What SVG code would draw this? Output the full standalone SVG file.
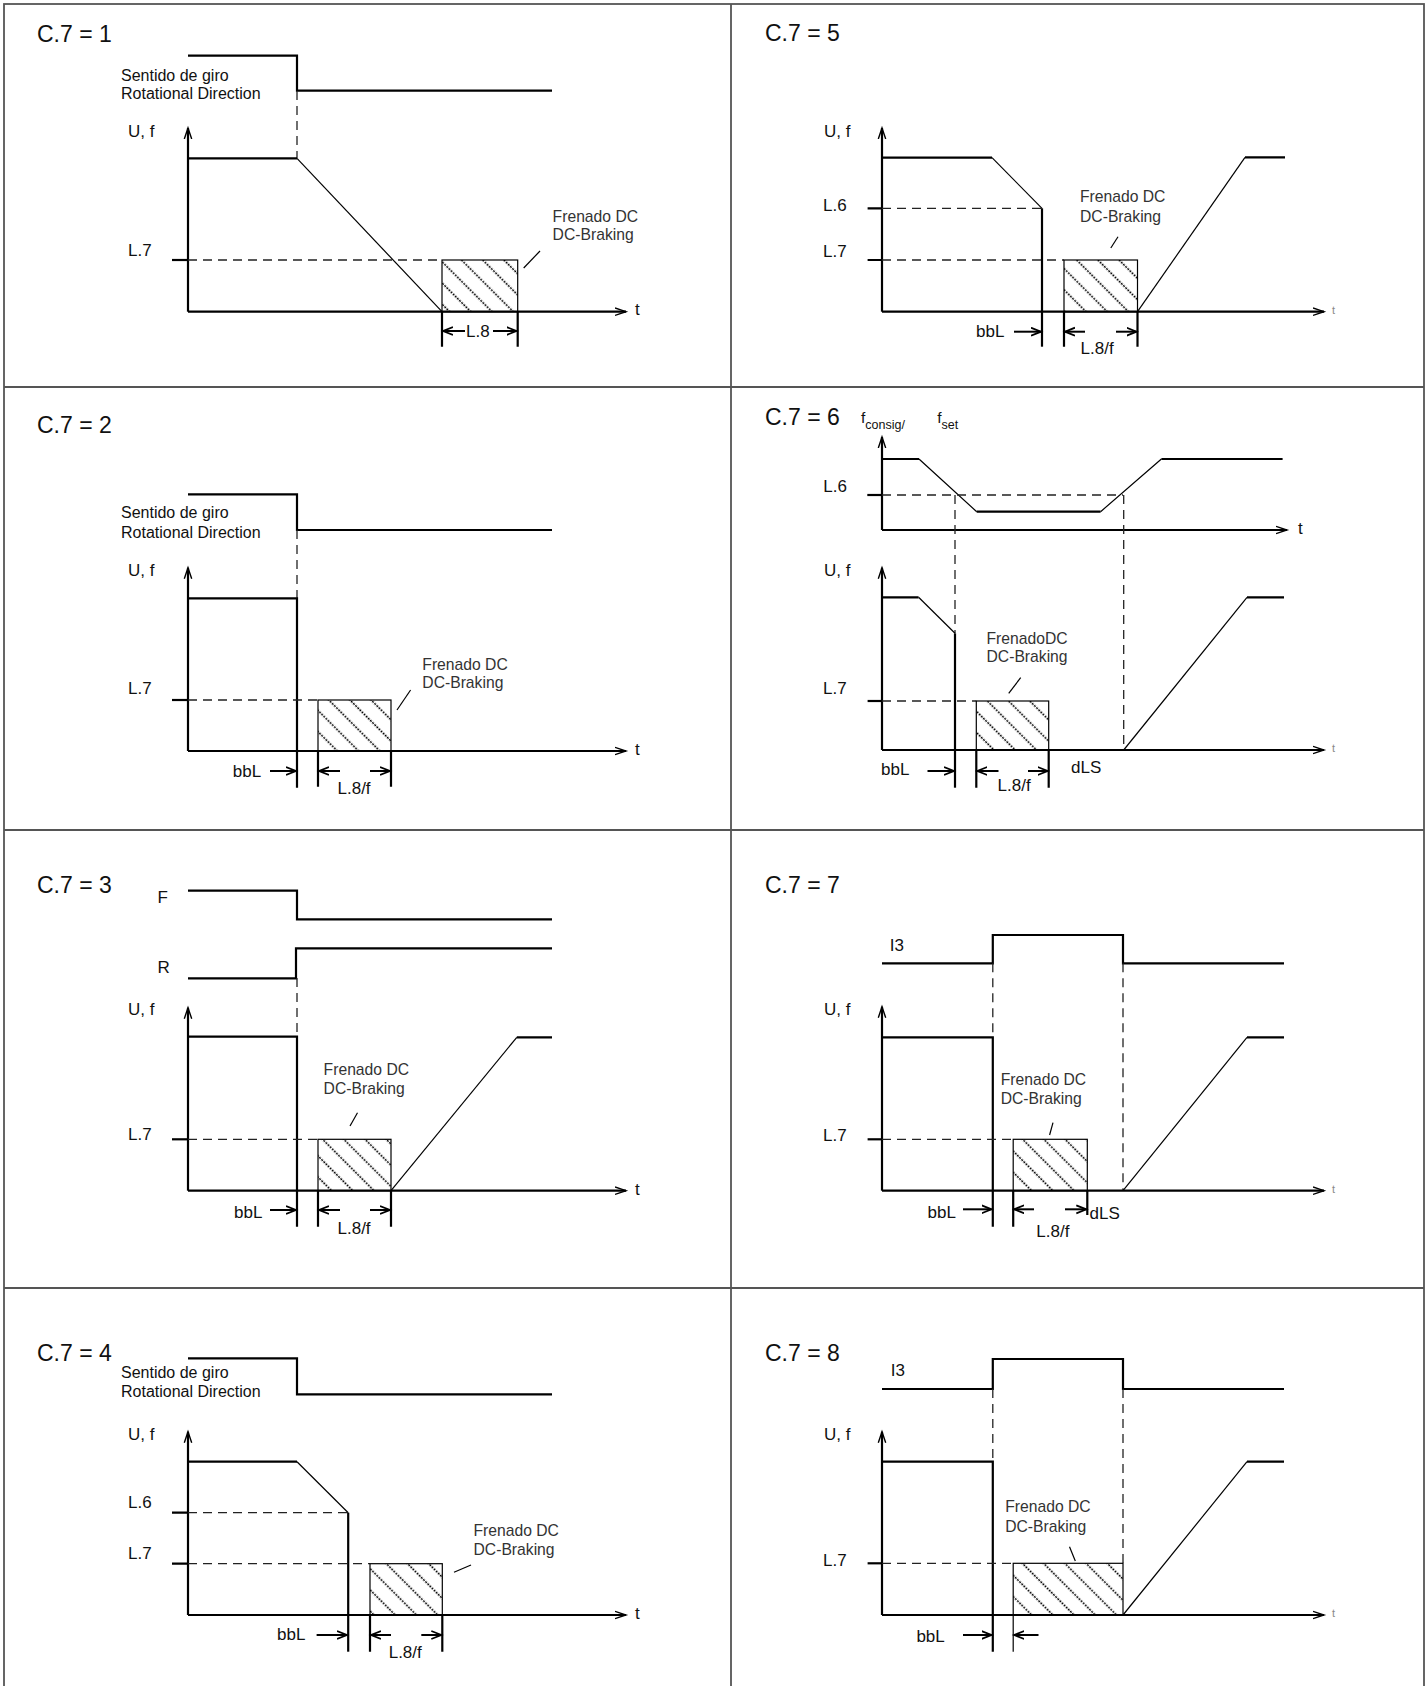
<svg xmlns="http://www.w3.org/2000/svg" width="1426" height="1686" viewBox="0 0 1426 1686">
<style>
text{font-family:"Liberation Sans",Arial,sans-serif;fill:#111}
.ti{font-size:23px}
.lb{font-size:17px}
.sd{font-size:16px}
.fr{font-size:15.7px;fill:#333}
.st{font-size:11px;fill:#888}
.b{stroke:#000;stroke-width:2.2;fill:none}
.n{stroke:#000;stroke-width:1.2;fill:none}
.d{stroke:#222;stroke-width:1.3;stroke-dasharray:9 6;fill:none}
.ax{stroke:#000;stroke-width:2.2;fill:none;marker-end:url(#ax)}
.dm{stroke:#000;stroke-width:2;fill:none;marker-end:url(#da)}
.hb{fill:url(#hatch);stroke:#000;stroke-width:1.2}
.grid{stroke:#555;stroke-width:1.8;fill:none}
</style>
<defs>
<marker id="ax" markerUnits="userSpaceOnUse" markerWidth="14" markerHeight="12" refX="11" refY="5" orient="auto"><path d="M0,1.3 L11,5 L0,8.7" fill="none" stroke="#000" stroke-width="1.4"/></marker>
<marker id="da" markerUnits="userSpaceOnUse" markerWidth="14" markerHeight="12" refX="10" refY="5" orient="auto"><path d="M0,1 L10,5 L0,9" fill="none" stroke="#000" stroke-width="1.8"/></marker>
<pattern id="hatch" patternUnits="userSpaceOnUse" width="15" height="15" patternTransform="rotate(45)"><path d="M0,7.5 H15" stroke="#000" stroke-width="1.7" stroke-dasharray="2 1"/></pattern>
</defs>
<rect width="1426" height="1686" fill="#fff"/>
<g id="grid">
<rect class="grid" x="4" y="4" width="1420" height="1690"/>
<path class="grid" d="M731,4 V1686 M4,387 H1424 M4,830 H1424 M4,1288 H1424"/>
</g>

<g id="p1">
<text class="ti" x="37" y="42">C.7 = 1</text>
<polyline class="b" points="188,55.7 297,55.7 297,90.7 552,90.7"/>
<text class="sd" x="121" y="81">Sentido de giro</text>
<text class="sd" x="121" y="99">Rotational Direction</text>
<path class="d" d="M297,91 V158"/>
<path class="ax" d="M188,311.7 V128"/>
<text class="lb" x="128" y="137">U, f</text>
<path class="b" d="M188,158.3 H297"/>
<path class="n" d="M297,158.3 L442,311.7"/>
<path class="b" d="M172,260 H188"/>
<path class="d" d="M188,260 H442"/>
<text class="lb" x="128" y="256">L.7</text>
<rect class="hb" x="442" y="260" width="75.7" height="51.7"/>
<path class="n" d="M523.7,268 L540,251"/>
<text class="fr" x="552.6" y="221.7">Frenado DC</text>
<text class="fr" x="552.6" y="240">DC-Braking</text>
<path class="ax" d="M188,311.7 H626"/>
<text class="lb" x="635" y="315">t</text>
<path class="b" d="M442,311.7 V346.7 M517.7,311.7 V346.7"/>
<path class="dm" d="M465,331 H443"/>
<path class="dm" d="M493,331 H516.5"/>
<text class="lb" x="466" y="336.7">L.8</text>
</g>

<g id="p5">
<text class="ti" x="765" y="41">C.7 = 5</text>
<path class="ax" d="M882,311.7 V128"/>
<text class="lb" x="824" y="137">U, f</text>
<path class="b" d="M882,157.7 H992"/>
<path class="n" d="M992,157.7 L1042,208.3"/>
<path class="b" d="M1042,208.3 V346.7"/>
<path class="b" d="M867.6,208.3 H882 M867.6,260 H882"/>
<path class="d" d="M882,208.3 H1042 M882,260 H1064"/>
<text class="lb" x="823" y="211">L.6</text>
<text class="lb" x="823" y="256.7">L.7</text>
<rect class="hb" x="1064" y="260" width="73.5" height="51.7"/>
<path class="n" d="M1137.5,311.7 L1245,157.3"/>
<path class="b" d="M1245,157.3 H1285"/>
<text class="fr" x="1080" y="201.7">Frenado DC</text>
<text class="fr" x="1080" y="221.7">DC-Braking</text>
<path class="n" d="M1110.8,248 L1118,236.7"/>
<path class="ax" d="M882,311.7 H1324"/>
<text class="st" x="1332" y="314">t</text>
<text class="lb" x="976" y="336.7">bbL</text>
<path class="dm" d="M1014,331.7 H1041"/>
<path class="b" d="M1064,311.7 V346.7 M1137.5,311.7 V346.7"/>
<path class="dm" d="M1085,331.7 H1065"/>
<path class="dm" d="M1116,331.7 H1136.5"/>
<text class="lb" x="1080.6" y="354">L.8/f</text>
</g>

<g id="p2">
<text class="ti" x="37" y="433.3">C.7 = 2</text>
<polyline class="b" points="188,494.3 297,494.3 297,530 552,530"/>
<text class="sd" x="121" y="517.7">Sentido de giro</text>
<text class="sd" x="121" y="537.7">Rotational Direction</text>
<path class="d" d="M297,530 V598"/>
<path class="ax" d="M188,751 V567.7"/>
<text class="lb" x="128" y="575.7">U, f</text>
<path class="b" d="M188,598.3 H297 V787.7"/>
<path class="b" d="M172,700 H188"/>
<path class="d" d="M188,700 H318"/>
<text class="lb" x="128" y="694.3">L.7</text>
<rect class="hb" x="318" y="700" width="73" height="51"/>
<text class="fr" x="422.3" y="670">Frenado DC</text>
<text class="fr" x="422.3" y="688.3">DC-Braking</text>
<path class="n" d="M397,710 L410.6,690"/>
<path class="ax" d="M188,751 H626"/>
<text class="lb" x="635" y="755">t</text>
<text class="lb" x="232.8" y="776.7">bbL</text>
<path class="dm" d="M270,771 H296"/>
<path class="b" d="M318,751 V786.7 M391,751 V786.7"/>
<path class="dm" d="M340,771 H319"/>
<path class="dm" d="M370,771 H390"/>
<text class="lb" x="337.5" y="794.3">L.8/f</text>
</g>

<g id="p6">
<text class="ti" x="765" y="425">C.7 = 6</text>
<text x="861" y="422.7" style="font-size:15.5px">f<tspan dy="6" style="font-size:12.5px">consig/</tspan></text>
<text x="937.3" y="422.7" style="font-size:15.5px">f<tspan dy="6" style="font-size:12.5px">set</tspan></text>
<path class="ax" d="M882,530 V437"/>
<path class="b" d="M882,459 H919 M976.7,511.7 H1100.6 M1161.4,459 H1282.6"/>
<path class="n" d="M919,459 L976.7,511.7 M1100.6,511.7 L1161.4,459"/>
<path class="b" d="M867.3,495 H882"/>
<path class="d" d="M882,495 H1123"/>
<text class="lb" x="823.3" y="492">L.6</text>
<path class="ax" d="M882,530 H1287"/>
<text class="lb" x="1298" y="534.3">t</text>
<path class="d" d="M955,495 V633 M1123.7,495 V750"/>
<path class="ax" d="M882,750 V567.7"/>
<text class="lb" x="824" y="575.7">U, f</text>
<path class="b" d="M882,597.3 H918.6"/>
<path class="n" d="M918.6,597.3 L955,633.3"/>
<path class="b" d="M955,633.3 V787.7"/>
<path class="b" d="M867.6,701 H882"/>
<path class="d" d="M882,701 H976.3"/>
<text class="lb" x="823" y="694.3">L.7</text>
<rect class="hb" x="976.3" y="701" width="72.4" height="49"/>
<path class="n" d="M1123.7,750 L1247,597.3"/>
<path class="b" d="M1247,597.3 H1284"/>
<path class="ax" d="M882,750 H1324"/>
<text class="st" x="1332" y="752">t</text>
<text class="fr" x="986.5" y="644.3">FrenadoDC</text>
<text class="fr" x="986.5" y="661.7">DC-Braking</text>
<path class="n" d="M1008.7,693.3 L1020.7,677.7"/>
<text class="lb" x="881" y="775">bbL</text>
<path class="dm" d="M927.5,771 H954"/>
<path class="b" d="M976.3,750 V787.7 M1048.7,750 V787.7"/>
<path class="dm" d="M998.5,771 H977.3"/>
<path class="dm" d="M1028,771 H1047.7"/>
<text class="lb" x="997.6" y="791">L.8/f</text>
<text class="lb" x="1071" y="773.3">dLS</text>
</g>

<g id="p3">
<text class="ti" x="37" y="893.3">C.7 = 3</text>
<text class="lb" x="157.4" y="903.3">F</text>
<polyline class="b" points="188,890.7 297,890.7 297,919.3 552,919.3"/>
<text class="lb" x="157.4" y="973.3">R</text>
<polyline class="b" points="188,978.3 296,978.3 296,948.3 552,948.3"/>
<path class="d" d="M297,978 V1036.7"/>
<path class="ax" d="M188,1190.7 V1007.7"/>
<text class="lb" x="128" y="1015">U, f</text>
<path class="b" d="M188,1036.7 H297 V1226.7"/>
<path class="b" d="M172,1139.3 H188"/>
<path class="d" d="M188,1139.3 H318"/>
<text class="lb" x="128" y="1140">L.7</text>
<rect class="hb" x="318" y="1139.3" width="73" height="51.4"/>
<path class="n" d="M391,1190.7 L516.8,1037.3"/>
<path class="b" d="M516.8,1037.3 H552"/>
<text class="fr" x="323.6" y="1075">Frenado DC</text>
<text class="fr" x="323.6" y="1094.3">DC-Braking</text>
<path class="n" d="M350,1126 L357.5,1112.7"/>
<path class="ax" d="M188,1190.7 H626"/>
<text class="lb" x="635" y="1195">t</text>
<text class="lb" x="234" y="1217.7">bbL</text>
<path class="dm" d="M270,1210 H296"/>
<path class="b" d="M318,1190.7 V1226.7 M391,1190.7 V1226.7"/>
<path class="dm" d="M340,1210 H319"/>
<path class="dm" d="M370,1210 H390"/>
<text class="lb" x="337.5" y="1234">L.8/f</text>
</g>

<g id="p7">
<text class="ti" x="765" y="893.3">C.7 = 7</text>
<text class="lb" x="889.8" y="950.7">I3</text>
<polyline class="b" points="882,963.3 992.8,963.3 992.8,935 1123,935 1123,963.3 1284,963.3"/>
<path class="d" d="M992.8,963.3 V1037.3 M1123,963.3 V1190.7"/>
<path class="ax" d="M882,1190.7 V1006.7"/>
<text class="lb" x="824" y="1015">U, f</text>
<path class="b" d="M882,1037.3 H992.8 V1226.7"/>
<path class="b" d="M867.6,1139.3 H882"/>
<path class="d" d="M882,1139.3 H1013.2"/>
<text class="lb" x="823" y="1141">L.7</text>
<rect class="hb" x="1013.2" y="1139.3" width="74.1" height="51.4"/>
<path class="n" d="M1123,1190.7 L1247,1037.3"/>
<path class="b" d="M1247,1037.3 H1284"/>
<text class="fr" x="1000.7" y="1085">Frenado DC</text>
<text class="fr" x="1000.7" y="1104">DC-Braking</text>
<path class="n" d="M1049.6,1135 L1053,1122.7"/>
<path class="ax" d="M882,1190.7 H1324"/>
<text class="st" x="1332" y="1193">t</text>
<text class="lb" x="927.5" y="1218.3">bbL</text>
<path class="dm" d="M963,1209.3 H991.5"/>
<path class="b" d="M1013.2,1190.7 V1226.7 M1087.3,1190.7 V1215"/>
<path class="dm" d="M1034,1209.3 H1014.2"/>
<path class="dm" d="M1065,1209.3 H1086.3"/>
<text class="lb" x="1089.5" y="1219.3">dLS</text>
<text class="lb" x="1036.3" y="1237.3">L.8/f</text>
</g>

<g id="p4">
<text class="ti" x="37" y="1361">C.7 = 4</text>
<polyline class="b" points="188,1358.3 297,1358.3 297,1394.3 552,1394.3"/>
<text class="sd" x="121" y="1378.3">Sentido de giro</text>
<text class="sd" x="121" y="1397.3">Rotational Direction</text>
<path class="ax" d="M188,1615 V1431.7"/>
<text class="lb" x="128" y="1440">U, f</text>
<path class="b" d="M188,1461.7 H297"/>
<path class="n" d="M297,1461.7 L348.2,1512.7"/>
<path class="b" d="M348.2,1512.7 V1651.7"/>
<path class="b" d="M172,1512.7 H188 M172,1563.7 H188"/>
<path class="d" d="M188,1512.7 H348 M188,1563.7 H370"/>
<text class="lb" x="128" y="1508.3">L.6</text>
<text class="lb" x="128" y="1559">L.7</text>
<rect class="hb" x="370" y="1563.7" width="72.3" height="51.3"/>
<text class="fr" x="473.5" y="1535.7">Frenado DC</text>
<text class="fr" x="473.5" y="1555">DC-Braking</text>
<path class="n" d="M454,1572.3 L471,1565"/>
<path class="ax" d="M188,1615 H626"/>
<text class="lb" x="635" y="1619">t</text>
<text class="lb" x="277" y="1640">bbL</text>
<path class="dm" d="M316.6,1635 H347"/>
<path class="b" d="M370,1615 V1651.7 M442.3,1615 V1651.7"/>
<path class="dm" d="M391,1635 H371"/>
<path class="dm" d="M421.3,1635 H441.3"/>
<text class="lb" x="388.7" y="1658.3">L.8/f</text>
</g>

<g id="p8">
<text class="ti" x="765" y="1361">C.7 = 8</text>
<text class="lb" x="890.7" y="1375.7">I3</text>
<polyline class="b" points="882,1389 992.8,1389 992.8,1359 1123,1359 1123,1389 1284,1389"/>
<path class="d" d="M992.8,1389 V1461.7 M1123,1389 V1563.3"/>
<path class="ax" d="M882,1615 V1431.7"/>
<text class="lb" x="824" y="1440">U, f</text>
<path class="b" d="M882,1461.7 H992.8 V1651.7"/>
<path class="b" d="M867.6,1563.3 H882"/>
<path class="d" d="M882,1563.3 H1013.2"/>
<text class="lb" x="823" y="1566">L.7</text>
<rect class="hb" x="1013.2" y="1563.3" width="109.8" height="51.7"/>
<path class="n" d="M1013.2,1615 V1651.7"/>
<path class="n" d="M1123,1615 L1247,1461.7"/>
<path class="b" d="M1247,1461.7 H1284"/>
<text class="fr" x="1005.2" y="1512.3">Frenado DC</text>
<text class="fr" x="1005.2" y="1532.3">DC-Braking</text>
<path class="n" d="M1069.5,1546.7 L1075.3,1561"/>
<path class="ax" d="M882,1615 H1324"/>
<text class="st" x="1332" y="1617">t</text>
<text class="lb" x="916.4" y="1642.3">bbL</text>
<path class="dm" d="M963,1635 H991.5"/>
<path class="dm" d="M1038.5,1635 H1014.2"/>
</g>
</svg>
